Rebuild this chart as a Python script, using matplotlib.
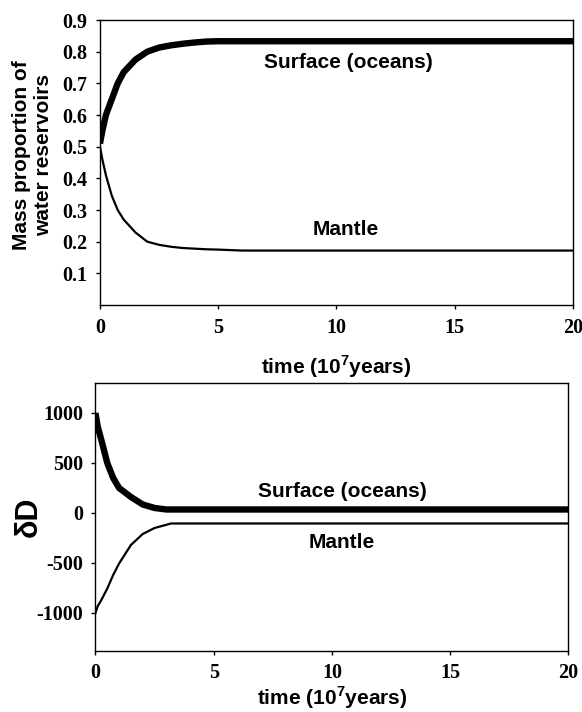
import numpy as np
import matplotlib.pyplot as plt

# --- data ---
# top panel: mass proportion of water reservoirs
t_mass = [0, 0.1, 0.25, 0.5, 0.75, 1, 1.5, 2, 2.5, 3, 3.5, 4, 4.5, 5, 6, 20]
surf_mass = [0.51, 0.55, 0.60, 0.65, 0.70, 0.735, 0.775, 0.80, 0.813, 0.82, 0.825,
             0.829, 0.832, 0.833, 0.833, 0.833]
mant_mass = [0.50, 0.46, 0.41, 0.345, 0.30, 0.27, 0.229, 0.20, 0.19, 0.184, 0.18,
             0.178, 0.176, 0.175, 0.172, 0.172]

# bottom panel: deltaD
t_dd = [0, 0.1, 0.25, 0.5, 0.75, 1, 1.5, 2, 2.5, 3, 3.2, 20]
surf_dd = [1000, 860, 730, 500, 350, 250, 160, 85, 50, 35, 35, 35]
mant_dd = [-1000, -930, -870, -755, -620, -505, -320, -210, -150, -118, -105, -105]

mass_ticks = [0.1, 0.2, 0.3, 0.4, 0.5, 0.6, 0.7, 0.8, 0.9]
dd_ticks = [-1000, -500, 0, 500, 1000]
t_ticks = [0, 5, 10, 15, 20]

plt.rcParams['mathtext.fontset'] = 'custom'
plt.rcParams['mathtext.bf'] = 'Liberation Sans:bold'
plt.rcParams['mathtext.rm'] = 'Liberation Sans:bold'

serif = {'family': 'Liberation Serif', 'weight': 'bold', 'size': 14.5}
sans = 'Liberation Sans'
fs = 15

fig = plt.figure(figsize=(5.82, 7.12), dpi=100)
ax1 = fig.add_axes([0.1718, 0.5716, 0.8127, 0.4003])
ax2 = fig.add_axes([0.164, 0.0857, 0.8127, 0.3764])

for ax in (ax1, ax2):
    ax.tick_params(direction='out', length=3, width=1, pad=6, top=False, right=False)
    for s in ax.spines.values():
        s.set_linewidth(1.0)
    ax.set_xlim(0, 20)
    ax.set_xticks(t_ticks)
    ax.set_xticklabels([str(v) for v in t_ticks], fontdict=serif)

# --- top panel ---
ax1.plot(t_mass, surf_mass, color='black', lw=4.6, solid_capstyle='butt')
ax1.plot(t_mass, mant_mass, color='black', lw=1.6)
ax1.set_ylim(0, 0.9)
ax1.set_yticks(mass_ticks)
ax1.set_yticklabels(['%.1f' % v for v in mass_ticks], fontdict=serif)
ax1.text(10.5, 0.767, 'Surface (oceans)', family=sans, weight='bold', fontsize=fs,
         ha='center', va='center')
ax1.text(10.4, 0.239, 'Mantle', family=sans, weight='bold', fontsize=fs,
         ha='center', va='center')
ax1.set_xlabel('time (10$^{\\mathbf{7}}$years)', family=sans, weight='bold', fontsize=fs)
ax1.xaxis.set_label_coords(0.5, -0.17)
ax1.set_ylabel('Mass proportion of\nwater reservoirs', family=sans, weight='bold',
               fontsize=fs, linespacing=1.15)
ax1.yaxis.set_label_coords(-0.1, 0.525)

# --- bottom panel ---
ax2.plot(t_dd, surf_dd, color='black', lw=4.6, solid_capstyle='butt')
ax2.plot(t_dd, mant_dd, color='black', lw=1.6)
ax2.set_ylim(-1380, 1300)
ax2.set_yticks(dd_ticks)
ax2.set_yticklabels([str(v) for v in dd_ticks], fontdict=serif)
ax2.text(10.45, 210, 'Surface (oceans)', family=sans, weight='bold', fontsize=fs,
         ha='center', va='center')
ax2.text(10.4, -300, 'Mantle', family=sans, weight='bold', fontsize=fs,
         ha='center', va='center')
ax2.set_xlabel('time (10$^{\\mathbf{7}}$years)', family=sans, weight='bold', fontsize=fs)
ax2.xaxis.set_label_coords(0.5, -0.125)
ax2.set_ylabel('\u03b4D', family=sans, weight='bold', fontsize=22)
ax2.yaxis.set_label_coords(-0.11, 0.5)

fig.savefig('out.png', dpi=100)
